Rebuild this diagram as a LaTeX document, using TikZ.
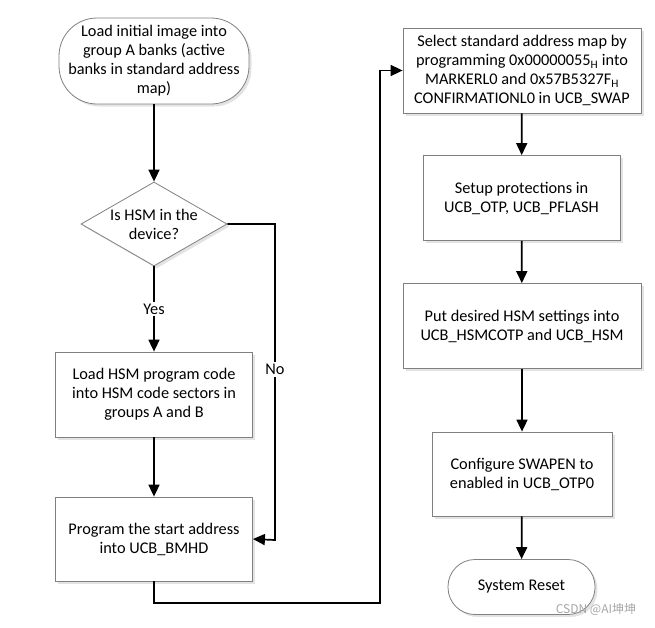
\documentclass[tikz,border=0pt]{standalone}
\usepackage{fontspec}
\setmainfont{Carlito}
\newfontfamily\cjkfont{Noto Sans CJK SC}
\usetikzlibrary{shapes.geometric,arrows.meta,shadows}

\begin{document}
\begin{tikzpicture}[x=1pt,y=-1pt,
    txt/.style={font=\fontsize{16.3}{19}\selectfont, align=center, inner sep=0pt},
    shade/.style={drop shadow={shadow xshift=2.5pt, shadow yshift=-2.5pt, fill=black!18, opacity=0.6}},
    procbox/.style={txt, draw=black!50, line width=0.8pt, fill=white, shade},
    termbox/.style={procbox, rounded corners=#1},
    decbox/.style={procbox, diamond, aspect=1.7, minimum width=146pt, minimum height=84pt},
    flow/.style={line width=1.7pt, -{Triangle[width=11pt,length=12pt]}},
    lbl/.style={txt, fill=white, inner sep=2pt}]
    \useasboundingbox (0,0) rectangle (655,627);

    \node [termbox=38pt, minimum width=190pt, minimum height=86pt] (start) at (154,61)
      {Load initial image into\\group A banks (active\\banks in standard address\\map)};
    \node [decbox] (dia) at (154,224) {Is HSM in the\\device?};
    \node [procbox, minimum width=197pt, minimum height=85pt] (hsm) at (154,394.5)
      {Load HSM program code\\into HSM code sectors in\\groups A and B};
    \node [procbox, minimum width=197pt, minimum height=84pt] (bmhd) at (154,539)
      {Program the start address\\into UCB\_BMHD};

    \node [procbox, minimum width=238pt, minimum height=85pt] (swap) at (522,70.5)
      {Select standard address map by\\programming 0x00000055\textsubscript{H} into\\MARKERL0 and 0x57B5327F\textsubscript{H}\\CONFIRMATIONL0 in UCB\_SWAP};
    \node [procbox, minimum width=197pt, minimum height=85pt] (prot) at (521.5,198)
      {Setup protections in\\UCB\_OTP, UCB\_PFLASH};
    \node [procbox, minimum width=238pt, minimum height=85pt] (hsmset) at (522,326)
      {Put desired HSM settings into\\UCB\_HSMCOTP and UCB\_HSM};
    \node [procbox, minimum width=180pt, minimum height=84pt] (swapen) at (522,474)
      {Configure SWAPEN to\\enabled in UCB\_OTP0};
    \node [termbox=27pt, minimum width=147pt, minimum height=55pt] (reset) at (521.5,587)
      {System Reset};

    \coordinate (nocorner) at (275,540);
    \coordinate (lowturn) at (380,603);

    \draw [flow] (start) -- (dia);
    \draw [flow] (dia) -- node [lbl] (yes) {Yes} (hsm);
    \draw [flow] (dia.east) -| node [lbl, pos=0.73] (no) {No} (nocorner) -- (bmhd.east);
    \draw [flow] (hsm) -- (bmhd);
    \draw [flow] (bmhd.south) |- (lowturn) |- (swap.west);
    \draw [flow] (swap) -- (prot);
    \draw [flow] (prot) -- (hsmset);
    \draw [flow] (hsmset) -- (swapen);
    \draw [flow] (swapen) -- (reset);

    \node [text=black!35, font=\fontsize{12}{14}\cjkfont] (mark) at (596,609) {CSDN @AI坤坤};
\end{tikzpicture}
\end{document}
